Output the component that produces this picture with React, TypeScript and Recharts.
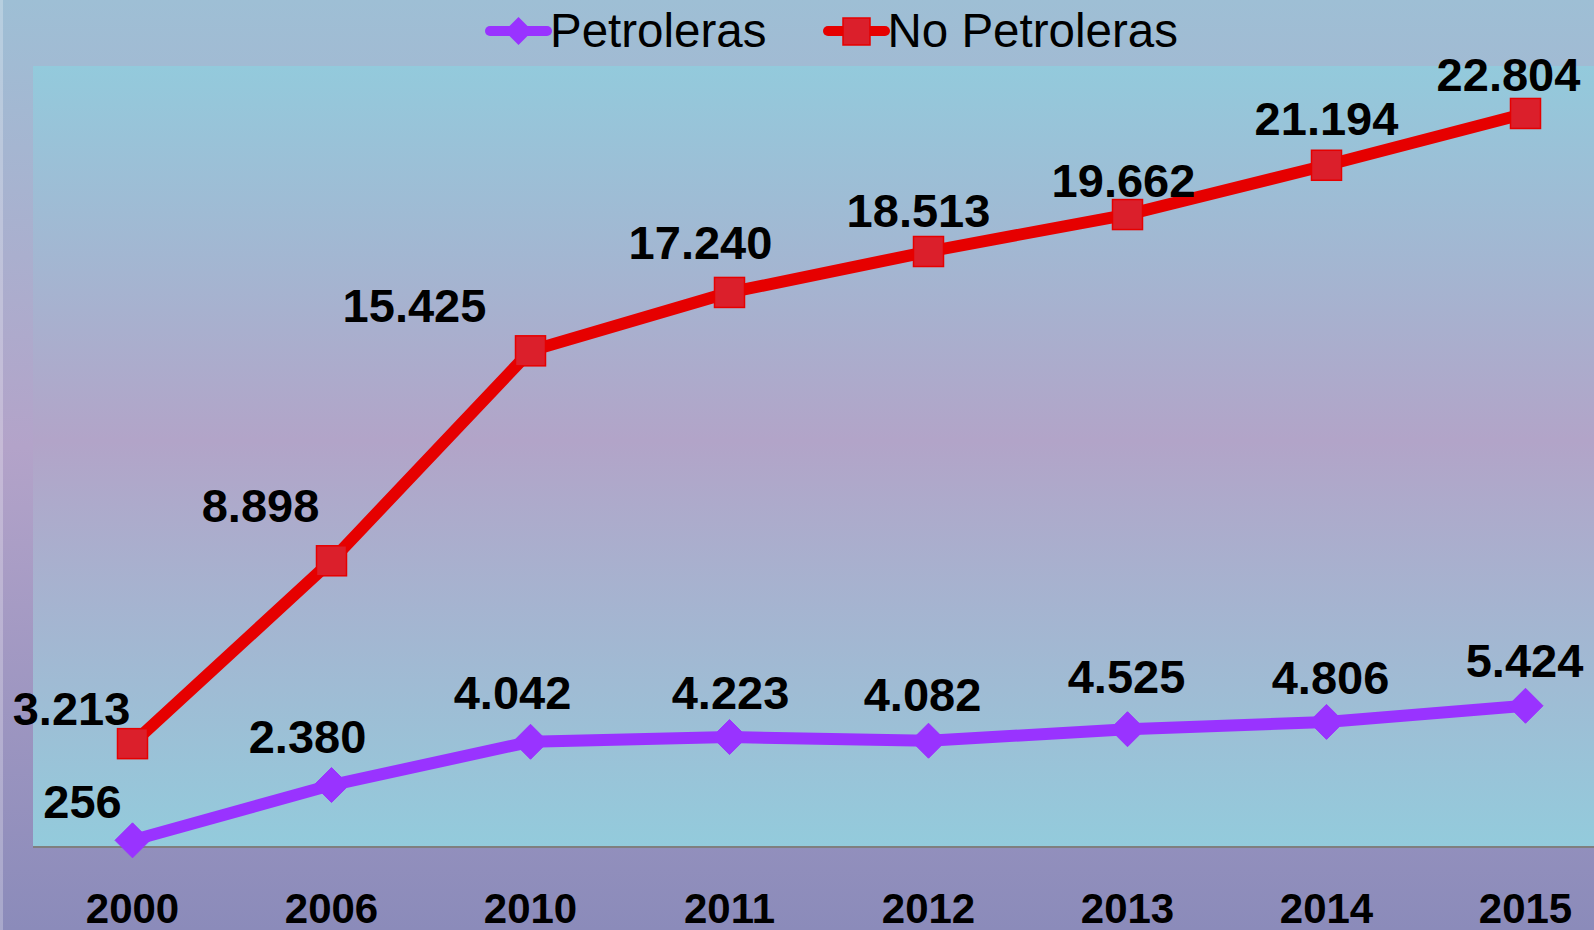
import React from 'react';
import { LineChart, Line, XAxis, YAxis, CartesianGrid, LabelList } from 'recharts';

// ---- data ----
const years = ['2000', '2006', '2010', '2011', '2012', '2013', '2014', '2015'];
const petroleras = [256, 2380, 4042, 4223, 4082, 4525, 4806, 5424];
const noPetroleras = [3213, 8898, 15425, 17240, 18513, 19662, 21194, 22804];

// label nudges (relative to each point), as placed in the original chart
const petrolerasLabelDx = [-50, -24, -18, 1, -6, -1, 4, -1];
const petrolerasLabelDy = [-22, -32, -33, -28, -30, -36, -28, -29];
const noPetrolerasLabelDx = [-61, -71, -116, -29, -10, -4, 0, -17];
const noPetrolerasLabelDy = [-19, -39, -29, -33, -25, -18, -30, -22];

const data = years.map((y, i) => ({
  i,
  year: y,
  petroleras: petroleras[i],
  noPetroleras: noPetroleras[i],
}));

const FONT = '"Liberation Sans", Arial, Helvetica, sans-serif';
const PURPLE = '#9933ff';
const RED = '#e60000';
const SQUARE_FILL = '#db1f2b';

const fmt = (v: number) => {
  const s = String(Math.round(v));
  return s.replace(/\B(?=(\d{3})+(?!\d))/g, '.');
};

const makeLabel = (dxs: number[], dys: number[]) => (props: any) => {
  const { x, y, value, index } = props;
  return (
    <text
      x={x + dxs[index]}
      y={y + dys[index]}
      textAnchor="middle"
      fontFamily={FONT}
      fontWeight="bold"
      fontSize={47}
      fill="#000"
    >
      {fmt(value)}
    </text>
  );
};

const DiamondDot = (props: any) => {
  const { cx, cy } = props;
  if (cx == null || cy == null) return null;
  const r = 17.5;
  return (
    <polygon
      points={`${cx},${cy - r} ${cx + r},${cy} ${cx},${cy + r} ${cx - r},${cy}`}
      fill={PURPLE}
      stroke={PURPLE}
      strokeWidth={1}
    />
  );
};

const SquareDot = (props: any) => {
  const { cx, cy } = props;
  if (cx == null || cy == null) return null;
  const s = 30;
  return (
    <rect x={cx - s / 2} y={cy - s / 2} width={s} height={s} fill={SQUARE_FILL} stroke={RED} strokeWidth={1.5} />
  );
};

export default function App() {
  return (
    <div
      style={{
        position: 'fixed',
        left: 0,
        top: 0,
        width: 1594,
        height: 930,
        overflow: 'hidden',
        background: 'linear-gradient(to bottom, #9ebfd5 0%, #b3a3c9 48%, #8b8bba 100%)',
      }}
    >
      <svg width={0} height={0} style={{ position: 'absolute' }}>
        <defs>
          <linearGradient id="plotBg" x1="0" y1="0" x2="0" y2="1">
            <stop offset="0%" stopColor="#93cadc" />
            <stop offset="48%" stopColor="#b2a4c8" />
            <stop offset="100%" stopColor="#93cbdc" />
          </linearGradient>
        </defs>
      </svg>
      <div style={{ position: 'absolute', left: 0, top: 0, width: 3, height: 930, background: 'rgba(255,255,255,0.25)' }} />
      <div style={{ position: 'absolute', left: 0, top: 0 }}>
        <LineChart width={1625} height={930} data={data} margin={{ top: 66, right: 0, bottom: 0, left: 33 }}>
          <CartesianGrid horizontal={false} vertical={false} fill="url(#plotBg)" stroke="none" />
          <XAxis
            dataKey="i"
            type="number"
            domain={[-0.5, 7.5]}
            ticks={[0, 1, 2, 3, 4, 5, 6, 7]}
            tickFormatter={(v: number) => years[v]}
            height={83}
            axisLine={{ stroke: '#7f7f7f', strokeWidth: 2 }}
            tickLine={false}
            tickSize={6}
            tickMargin={40}
            interval={0}
            tick={{ fontFamily: FONT, fontWeight: 'bold', fontSize: 42, fill: '#000' }}
          />
          <YAxis yAxisId="left" hide domain={[0, 30000]} />
          <YAxis yAxisId="right" hide orientation="right" domain={[0, 24280]} />
          <Line
            yAxisId="left"
            type="linear"
            dataKey="petroleras"
            stroke={PURPLE}
            strokeWidth={12}
            dot={<DiamondDot />}
            activeDot={false}
            isAnimationActive={false}
          >
            <LabelList dataKey="petroleras" content={makeLabel(petrolerasLabelDx, petrolerasLabelDy)} />
          </Line>
          <Line
            yAxisId="right"
            type="linear"
            dataKey="noPetroleras"
            stroke={RED}
            strokeWidth={12}
            dot={<SquareDot />}
            activeDot={false}
            isAnimationActive={false}
          >
            <LabelList dataKey="noPetroleras" content={makeLabel(noPetrolerasLabelDx, noPetrolerasLabelDy)} />
          </Line>
        </LineChart>
      </div>
      <svg width={1594} height={66} style={{ position: 'absolute', left: 0, top: 0 }}>
        <line x1={490} y1={31} x2={547} y2={31} stroke={PURPLE} strokeWidth={10} strokeLinecap="round" />
        <polygon points="518.5,17 532.5,31 518.5,45 504.5,31" fill={PURPLE} />
        <text x={550} y={47} fontFamily={FONT} fontSize={47.5} fill="#000">Petroleras</text>
        <line x1={828} y1={31} x2={885} y2={31} stroke={RED} strokeWidth={10} strokeLinecap="round" />
        <rect x={843} y={18} width={27} height={27} fill={SQUARE_FILL} stroke={RED} strokeWidth={1.5} />
        <text x={887.5} y={47} fontFamily={FONT} fontSize={47.5} fill="#000">No Petroleras</text>
      </svg>
    </div>
  );
}
